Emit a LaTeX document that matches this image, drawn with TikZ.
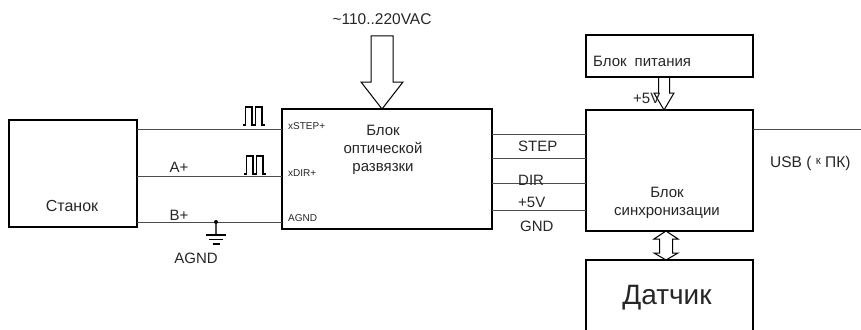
\documentclass[tikz,border=0pt]{standalone}
\usepackage{fontspec}
\setmainfont{Liberation Sans}
\usetikzlibrary{calc}
\begin{document}
\begin{tikzpicture}[x=1pt,y=-1pt,
  box/.style={draw=black, line width=1.1pt, inner sep=0pt, outer sep=0pt},
  wire/.style={draw=black!70, line width=0.9pt},
  lbl/.style={inner sep=0pt, text=black!85, font=\fontsize{15}{18}\selectfont},
  tiny/.style={inner sep=0pt, text=black!85, font=\fontsize{10}{12}\selectfont},
  fatarrow/.style={draw=black, line width=1pt},
  pulsepath/.style={draw=black, line width=1.3pt},
  gbar/.style={draw=black, line width=1.8pt},
  pulse/.pic={\draw[pulsepath] (0,0) -- ++(2.5,0) -- ++(0,-18) -- ++(6.5,0) -- ++(0,18) -- ++(3.5,0) -- ++(0,-18) -- ++(6.5,0) -- ++(0,18) -- ++(3,0);}]
\clip (0,0) rectangle (861,329);
% boxes
\node[box, minimum width=128pt, minimum height=107pt] (stanok) at (73,173.5) {};
\node[box, minimum width=210pt, minimum height=120pt] (opto) at (387,169) {};
\node[box, minimum width=167pt, minimum height=121pt] (sync) at (669.5,170.5) {};
\node[box, minimum width=167pt, minimum height=42pt] (power) at (669.5,56) {};
\node[box, minimum width=167pt, minimum height=100pt] (dat) at (669.5,310) {};
% box texts
\node[lbl, font=\fontsize{16}{18}\selectfont] (tstanok) at (72,206) {Станок};
\node[lbl, align=center] (topto) at (383,150) {Блок\\оптической\\развязки};
\node[lbl, align=center] (tsync) at (667,203) {Блок\\синхронизации};
\node[lbl, anchor=west] (tpower) at (593,61.5) {Блок\hspace{8pt}питания};
\node[lbl, font=\fontsize{28}{30}\selectfont] (tdat) at (667,298) {Датчик};
% left wires
\coordinate (l1) at (0,129);
\coordinate (l2) at (0,176);
\coordinate (l3) at (0,222);
\draw[wire] (stanok.east |- l1) -- (opto.west |- l1);
\draw[wire] (stanok.east |- l2) -- (opto.west |- l2);
\draw[wire] (stanok.east |- l3) -- (opto.west |- l3);
\pic at (243,125) {pulse};
\pic at (244,174) {pulse};
\node[lbl] (ap) at (179,167) {A+};
\node[lbl] (bp) at (179,215) {B+};
% ground
\node[circle, fill=black, inner sep=0pt, minimum size=4pt] (gj) at (216,222) {};
\coordinate (gb) at (216,235);
\draw[wire, line width=1.1pt] (gj) -- (gb);
\draw[gbar] ($(gb)+(-10,0)$) -- ($(gb)+(10,0)$);
\draw[gbar] ($(gb)+(-7,4.5)$) -- ($(gb)+(7,4.5)$);
\draw[gbar] ($(gb)+(-3.5,9)$) -- ($(gb)+(3.5,9)$);
\node[lbl] (agnd) at (196,258) {AGND};
% opto inner labels
\node[tiny, anchor=west] (xstep) at (288,126) {xSTEP+};
\node[tiny, anchor=west] (xdir) at (288,173) {xDIR+};
\node[tiny, anchor=west] (xagnd) at (288,218) {AGND};
% AC arrow
\coordinate (acT) at ($(opto.north)+(-5,0)$);
\draw[fatarrow] (acT) -- ++(21,-27) -- ++(-10,0) -- ++(0,-46) -- ++(-22,0) -- ++(0,46) -- ++(-10,0) -- cycle;
\node[lbl, font=\fontsize{15.5}{18}\selectfont] (ac) at (382,19) {\textasciitilde110..220VAC};
% right wires
\coordinate (r1) at (0,134);
\coordinate (r2) at (0,158);
\coordinate (r3) at (0,183);
\coordinate (r4) at (0,210);
\draw[wire] (opto.east |- r1) -- (sync.west |- r1);
\draw[wire] (opto.east |- r2) -- (sync.west |- r2);
\draw[wire] (opto.east |- r3) -- (sync.west |- r3);
\draw[wire] (opto.east |- r4) -- (sync.west |- r4);
\node[lbl, anchor=west] (lstep) at (518,146.5) {STEP};
\node[lbl, anchor=west] (ldir) at (518,180) {DIR};
\node[lbl, anchor=west] (l5v) at (518,202) {+5V};
\node[lbl, anchor=west] (lgnd) at (520,226) {GND};
% power arrow
\coordinate (pT) at ($(sync.north)+(-5.5,0)$);
\draw[fatarrow] ($(pT)+(-5.5,-33)$) -- ++(0,16) -- ++(-4.5,0) -- (pT) -- ++(10,-17) -- ++(-4.5,0) -- ++(0,-16);
\node[lbl, anchor=west] (p5v) at (633,98) {+5V};
% double arrow
\coordinate (dT) at ($(sync.south)+(-3.5,0)$);
\draw[fatarrow] (dT) -- ++(12,8) -- ++(-5.5,0) -- ++(0,14) -- ++(5.5,0) -- ++(-12,7) -- ++(-12,-7) -- ++(5.5,0) -- ++(0,-14) -- ++(-5.5,0) -- cycle;
% USB
\coordinate (usbend) at (861,129);
\draw[wire] (sync.east |- usbend) -- (usbend);
\node[lbl, anchor=west, font=\fontsize{15.5}{18}\selectfont] (usb) at (770,163) {USB ( \raisebox{2.5pt}{\fontsize{11.5}{12}\selectfont к} ПК)};
\end{tikzpicture}
\end{document}
